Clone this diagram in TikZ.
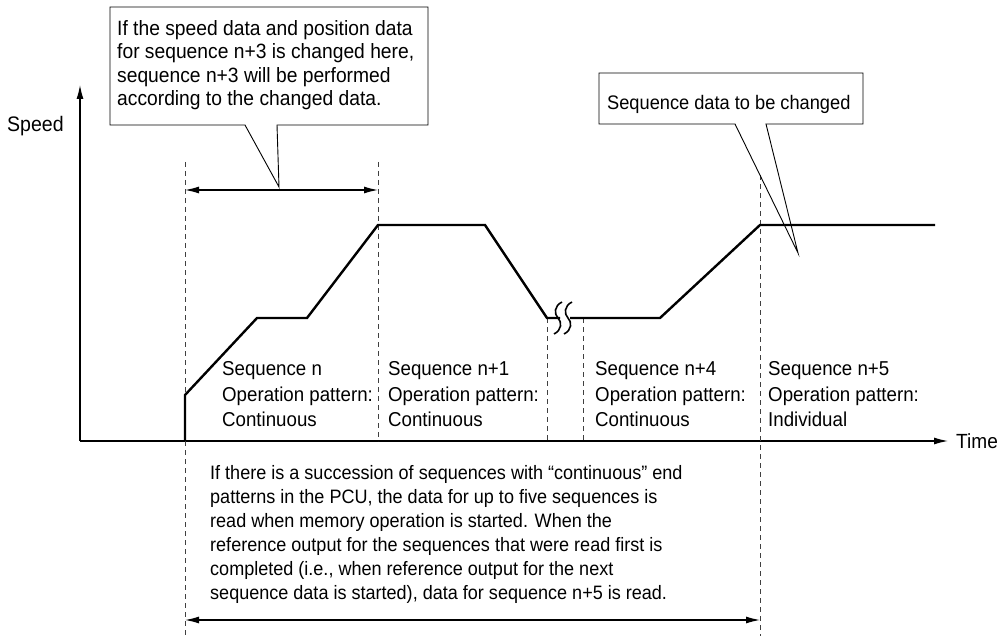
\documentclass[tikz,border=0pt]{standalone}
\usepackage{fontspec}
\setmainfont{Liberation Sans}[FakeStretch=0.93]
\usetikzlibrary{arrows.meta}
\begin{document}
\begin{tikzpicture}[x=1pt,y=-1pt,
  txt/.style={font=\fontsize{19.5}{24}\selectfont, align=left, anchor=north west, inner sep=0pt},
  prof/.style={line width=2.4pt, line join=miter},
  axis/.style={line width=1.2pt, -{Latex[length=14pt,width=7pt]}},
  guide/.style={line width=0.9pt, dash pattern=on 5pt off 4pt, black!75},
  dim/.style={line width=1.2pt, {Latex[length=14pt,width=7pt]}-{Latex[length=14pt,width=7pt]}},
  callout/.style={line width=0.9pt, line join=miter},
  brk/.style={line width=1.6pt}]
\useasboundingbox (0,0) rectangle (1004,639);

% axes
\coordinate (O) at (80,441);
\coordinate (ytop) at (80,85);
\coordinate (xend) at (948,441);
\draw[axis] (O) -- (ytop);
\draw[axis] (O) -- (xend);
\node[txt, font=\fontsize{21}{24}\selectfont] (speed) at (7,116) {Speed};
\node[txt, font=\fontsize{20.5}{24}\selectfont, anchor=west] (time) at (956,441) {Time};

% guide lines
\coordinate (g1t) at (185,162); \coordinate (g1b) at (185,636);
\coordinate (g2t) at (378,162); \coordinate (g2b) at (378,441);
\coordinate (g3t) at (547,318); \coordinate (g3b) at (547,441);
\coordinate (g4t) at (583,318); \coordinate (g4b) at (583,441);
\coordinate (g5t) at (760,175); \coordinate (g5b) at (760,636);
\draw[guide] (g1t) -- (g1b);
\draw[guide] (g2t) -- (g2b);
\draw[guide] (g3t) -- (g3b);
\draw[guide] (g4t) -- (g4b);
\draw[guide] (g5t) -- (g5b);

% dimension arrows
\coordinate (d1a) at (185,190); \coordinate (d1b) at (378,190);
\coordinate (d2a) at (185,620); \coordinate (d2b) at (760,620);
\draw[dim] (d1a) -- (d1b);
\draw[dim] (d2a) -- (d2b);

% speed profile
\draw[prof] (185,441) -- (185,395) -- (257,318) -- (307,318) -- (378,225)
  -- (485,225) -- (547,318) -- (560,318);
\draw[prof] (570,318) -- (660,318) -- (760,225) -- (935,225);
% break marks
\draw[brk] (562,302) .. controls (554,306) and (554,314) .. (558,318)
  .. controls (562,322) and (562,330) .. (554,334);
\draw[brk] (572,302) .. controls (564,306) and (564,314) .. (568,318)
  .. controls (572,322) and (572,330) .. (564,334);

% callout 1
\draw[callout, fill=white] (110,7) -- (428,7) -- (428,125) -- (277,125) -- (279,187)
  -- (245,125) -- (110,125) -- cycle;
\node[txt, font=\fontsize{20.7}{23.3}\selectfont] (c1) at (117,20.5)
  {If the speed data and position data\\for sequence n+3 is changed here,\\sequence n+3 will be performed\\according to the changed data.};

% callout 2
\draw[callout] (735,124) -- (599,124) -- (599,73) -- (863,73) -- (863,124) -- (766,124) -- (798,253) -- cycle;
\node[txt, font=\fontsize{19.6}{24}\selectfont] (c2) at (607,95.5) {Sequence data to be changed};

% sequence labels
\tikzset{seq/.style={txt, font=\fontsize{20.1}{25.5}\selectfont}}
\node[seq] (s1) at (222,361.5) {Sequence n\\Operation pattern:\\Continuous};
\node[seq] (s2) at (388,361.5) {Sequence n+1\\Operation pattern:\\Continuous};
\node[seq] (s3) at (595,361.5) {Sequence n+4\\Operation pattern:\\Continuous};
\node[seq] (s4) at (768,361.5) {Sequence n+5\\Operation pattern:\\Individual};

% bottom note
\node[txt, font=\fontsize{19.4}{24}\selectfont] (note) at (210,465)
  {If there is a succession of sequences with “continuous” end\\
   patterns in the PCU, the data for up to five sequences is\\
   read when memory operation is started. When the\\
   reference output for the sequences that were read first is\\
   completed (i.e., when reference output for the next\\
   sequence data is started), data for sequence n+5 is read.};
\end{tikzpicture}
\end{document}
